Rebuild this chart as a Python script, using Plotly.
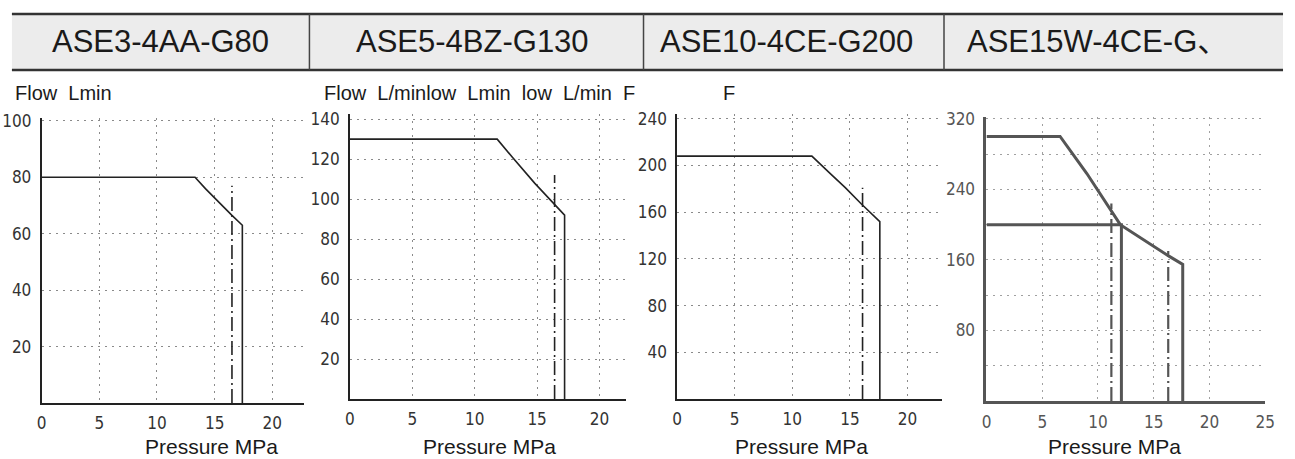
import plotly.graph_objects as go

W, H = 1295, 459

# ---------------- data ----------------
headers = ["ASE3-4AA-G80", "ASE5-4BZ-G130", "ASE10-4CE-G200", "ASE15W-4CE-G、"]

p1 = [0, 13.3, 14.2, 15.5, 16.5, 17.4, 17.4]
q1 = [80, 80, 76, 70.5, 66.5, 63, 0]
dd1_p = [16.5, 16.5]
dd1_q = [0, 77]

p2 = [0, 11.8, 13.0, 14.8, 16.3, 17.2, 17.2]
q2 = [130, 130, 121, 108, 98, 92, 0]
dd2_p = [16.4, 16.4]
dd2_q = [0, 112]

p3 = [0, 11.7, 13.3, 14.6, 16.0, 17.6, 17.6]
q3 = [208, 208, 193, 181, 167, 152, 0]
dd3_p = [16.1, 16.1]
dd3_q = [0, 181]

p4 = [0, 6.6, 9.0, 12.0, 16.4, 17.6, 17.6]
q4 = [300, 300, 258, 200, 164, 155, 0]
p4b = [0, 12.1, 12.1]
q4b = [200, 200, 0]
dd4a_p = [11.2, 11.2]
dd4a_q = [0, 224]
dd4b_p = [16.3, 16.3]
dd4b_q = [0, 170]

x_ticks_a = [0, 5, 10, 15, 20]
x_ticks_b = [0, 5, 10, 15, 20, 25]
y_ticks1 = [20, 40, 60, 80, 100]
y_ticks2 = [20, 40, 60, 80, 100, 120, 140]
y_ticks3 = [40, 80, 120, 160, 200, 240]
y_ticks4 = [40, 80, 120, 160, 200, 240, 280, 320]
y_text4 = ["", "80", "", "160", "", "240", "", "320"]

flow_labels = ["Flow  Lmin", "Flow  L/minlow  Lmin  low  L/min  F", "F"]
x_title = "Pressure MPa"

# ---------------- layout helpers (page px -> paper) ----------------
def px_x(v):
    return min(1.0, max(0.0, v / W))

def px_y(v):
    return min(1.0, max(0.0, 1 - v / H))

panels = [
    dict(dom_x=(37, 302), dom_y=(112, 402), xr=[0, 22.7], yr=[0, 101],
         xt=x_ticks_a, yt=y_ticks1, ytt=None, col="#222", lw=1.6, fc="#333"),
    dict(dom_x=(349, 628), dom_y=(108, 398), xr=[0, 22.1], yr=[0, 142.5],
         xt=x_ticks_a, yt=y_ticks2, ytt=None, col="#222", lw=1.6, fc="#333"),
    dict(dom_x=(680, 948), dom_y=(108, 398), xr=[0, 23], yr=[0, 244],
         xt=x_ticks_a, yt=y_ticks3, ytt=None, col="#222", lw=1.6, fc="#333"),
    dict(dom_x=(993, 1275), dom_y=(111, 400), xr=[0, 25], yr=[0, 322],
         xt=x_ticks_b, yt=y_ticks4, ytt=y_text4, col="#555", lw=3, fc="#555"),
]

series = [
    [(p1, q1, "solid"), (dd1_p, dd1_q, "dd")],
    [(p2, q2, "solid"), (dd2_p, dd2_q, "dd")],
    [(p3, q3, "solid"), (dd3_p, dd3_q, "dd")],
    [(p4, q4, "solid"), (p4b, q4b, "solid"), (dd4a_p, dd4a_q, "dd"), (dd4b_p, dd4b_q, "dd")],
]

tick_family = "Liberation Sans Narrow, DejaVu Sans Condensed, Liberation Sans, sans-serif"

fig = go.Figure()
layout = dict(
    width=W, height=H, margin=dict(l=0, r=0, t=0, b=0),
    paper_bgcolor="white", plot_bgcolor="white", showlegend=False,
    font=dict(family="Liberation Sans, Arial, sans-serif", color="#222"),
)

for i, (pn, ser) in enumerate(zip(panels, series)):
    k = "" if i == 0 else str(i + 1)
    xa, ya = "x" + k, "y" + k
    for xs, ys, kind in ser:
        if kind == "solid":
            line = dict(color=pn["col"], width=pn["lw"])
        else:
            line = dict(color=pn["col"], width=1.6 if i < 3 else 2.2,
                        dash="14px,4px,2px,4px")
        fig.add_trace(go.Scatter(x=xs, y=ys, mode="lines", line=line,
                                 xaxis=xa, yaxis=ya, hoverinfo="skip"))
    gridc = "#8a8a8a" if i < 3 else "#a0a0a0"
    layout["xaxis" + k] = dict(
        domain=[px_x(pn["dom_x"][0]), px_x(pn["dom_x"][1])],
        range=pn["xr"], anchor=ya, tickmode="array", tickvals=pn["xt"],
        showgrid=True, gridcolor=gridc, griddash="2px,5px", gridwidth=1,
        zeroline=False, showline=True, linecolor=pn["col"], linewidth=pn["lw"],
        ticks="", ticklabelstandoff=4,
        tickfont=dict(size=17, color=pn["fc"], family=tick_family),
        fixedrange=True,
    )
    yd = dict(
        domain=[px_y(pn["dom_y"][1]), px_y(pn["dom_y"][0])],
        range=pn["yr"], anchor=xa, tickmode="array", tickvals=pn["yt"],
        showgrid=True, gridcolor=gridc, griddash="2px,5px", gridwidth=1,
        zeroline=False, showline=True, linecolor=pn["col"], linewidth=pn["lw"],
        ticks="", ticklabelstandoff=5,
        tickfont=dict(size=17, color=pn["fc"], family=tick_family),
        fixedrange=True,
    )
    if pn["ytt"] is not None:
        yd["ticktext"] = pn["ytt"]
    layout["yaxis" + k] = yd

# header band
hx0, hx1 = px_x(7), px_x(1293)
shapes = [
    dict(type="rect", xref="paper", yref="paper", x0=hx0, x1=hx1,
         y0=px_y(63), y1=px_y(6), fillcolor="#ececec", line=dict(width=0), layer="below"),
    dict(type="line", xref="paper", yref="paper", x0=hx0, x1=hx1,
         y0=px_y(6), y1=px_y(6), line=dict(color="#333", width=2.5)),
    dict(type="line", xref="paper", yref="paper", x0=hx0, x1=hx1,
         y0=px_y(63), y1=px_y(63), line=dict(color="#333", width=2.5)),
]
for xd in [308, 646, 950]:
    shapes.append(dict(type="line", xref="paper", yref="paper", x0=px_x(xd), x1=px_x(xd),
                       y0=px_y(63), y1=px_y(6), line=dict(color="#444", width=1.5)))
layout["shapes"] = shapes

annotations = []
for txt, cx in zip(headers, [157, 473, 791, 1105]):
    annotations.append(dict(text=txt, x=px_x(cx), y=px_y(34), xref="paper", yref="paper",
                            showarrow=False, xanchor="center", yanchor="middle",
                            font=dict(size=31, color="#1a1a1a",
                                      family="Liberation Sans, Noto Sans CJK SC")))
for txt, lx in zip(flow_labels, [8, 321, 724]):
    annotations.append(dict(text=txt, x=px_x(lx), y=px_y(87), xref="paper", yref="paper",
                            showarrow=False, xanchor="left", yanchor="middle",
                            font=dict(size=20, color="#1a1a1a")))
for cx in [209, 490, 806, 1123]:
    annotations.append(dict(text=x_title, x=px_x(cx), y=px_y(446), xref="paper", yref="paper",
                            showarrow=False, xanchor="center", yanchor="middle",
                            font=dict(size=21, color="#1a1a1a")))
layout["annotations"] = annotations

fig.update_layout(**layout)
fig.write_html(
    "out.html",
    config={"displayModeBar": False, "responsive": False},
    post_script=(
        "document.documentElement.style.margin='0';"
        "document.documentElement.style.overflow='hidden';"
        "document.body.style.margin='0';document.body.style.padding='0';"
        "document.body.style.overflow='hidden';"
    ),
)
